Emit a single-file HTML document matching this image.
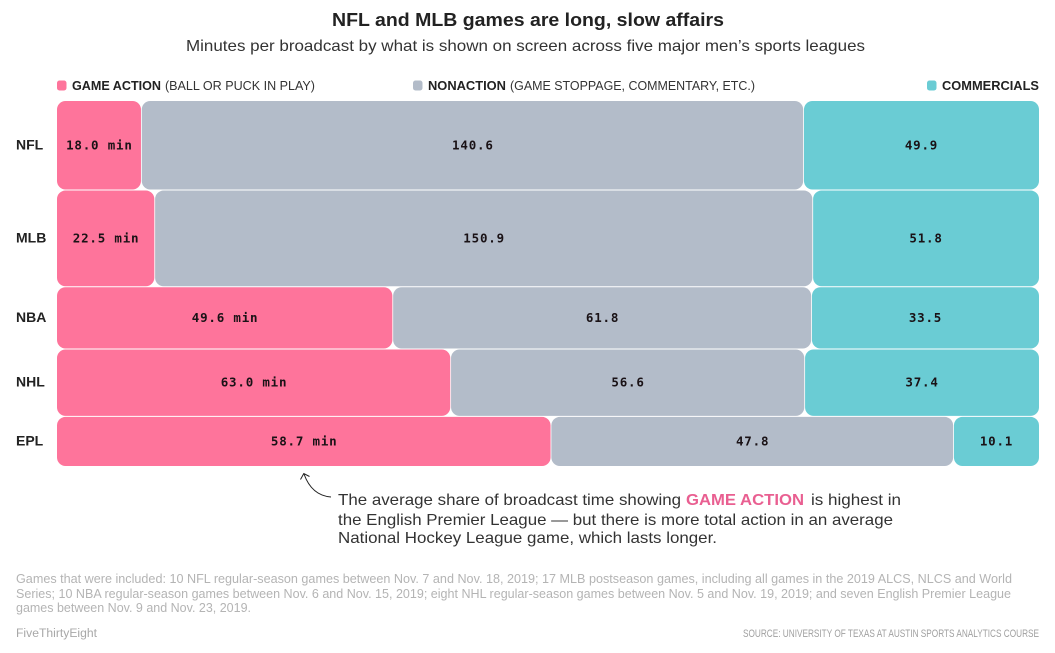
<!DOCTYPE html>
<html lang="en">
<head>
<meta charset="utf-8">
<title>NFL and MLB games are long, slow affairs</title>
<style>
html,body{margin:0;padding:0;background:#fff;width:1055px;height:653px;overflow:hidden}
svg{display:block}
text{font-family:"Liberation Sans",sans-serif;fill:#222}
.val{font-family:"DejaVu Sans Mono","Liberation Mono",monospace;font-weight:700;font-size:12.5px;text-anchor:middle;fill:#1a1216;letter-spacing:.8px}
.row{font-weight:700;font-size:14px;fill:#222}
.leg{font-size:12.5px;fill:#333}
.legb{font-size:12.5px;font-weight:700}
.ann{font-size:16px;fill:#333}
.foot{font-size:12.5px;fill:#b4b4b4}
</style>
</head>
<body>
<svg id="chart" width="1055" height="653" viewBox="0 0 1055 653" xmlns="http://www.w3.org/2000/svg">
  <text x="332" y="26" font-size="18.5" font-weight="700" textLength="392" lengthAdjust="spacingAndGlyphs">NFL and MLB games are long, slow affairs</text>
  <text x="186" y="51" font-size="16" style="fill:#333" textLength="679" lengthAdjust="spacingAndGlyphs">Minutes per broadcast by what is shown on screen across five major men’s sports leagues</text>

  <g>
    <rect x="57" y="80.5" width="9.5" height="10" rx="2.5" fill="#fe749b"/>
    <text class="legb" x="72" y="90" textLength="89" lengthAdjust="spacingAndGlyphs">GAME ACTION</text>
    <text class="leg" x="165" y="90" textLength="150" lengthAdjust="spacingAndGlyphs">(BALL OR PUCK IN PLAY)</text>
    <rect x="413" y="80.5" width="9.5" height="10" rx="2.5" fill="#b3bcc9"/>
    <text class="legb" x="428" y="90" textLength="78" lengthAdjust="spacingAndGlyphs">NONACTION</text>
    <text class="leg" x="510" y="90" textLength="245" lengthAdjust="spacingAndGlyphs">(GAME STOPPAGE, COMMENTARY, ETC.)</text>
    <rect x="927" y="80.5" width="9.5" height="10" rx="2.5" fill="#6accd4"/>
    <text class="legb" x="942" y="90" textLength="97" lengthAdjust="spacingAndGlyphs">COMMERCIALS</text>
  </g>

  <g id="plot"></g>

  <path d="M331 497 C318 496 309 488 304 474" fill="none" stroke="#222" stroke-width="1"/>
  <path d="M300.5 479.5 L303.8 473.5 L309.5 476.5" fill="none" stroke="#222" stroke-width="1"/>

  <g>
    <text class="ann" x="338" y="505" textLength="343" lengthAdjust="spacingAndGlyphs">The average share of broadcast time showing</text>
    <text x="686" y="505" font-size="16" font-weight="700" style="fill:#e95f91" textLength="118" lengthAdjust="spacingAndGlyphs">GAME ACTION</text>
    <text class="ann" x="811" y="505" textLength="90" lengthAdjust="spacingAndGlyphs">is highest in</text>
    <text class="ann" x="338" y="525" textLength="555" lengthAdjust="spacingAndGlyphs">the English Premier League — but there is more total action in an average</text>
    <text class="ann" x="338" y="543" textLength="379" lengthAdjust="spacingAndGlyphs">National Hockey League game, which lasts longer.</text>
  </g>

  <g>
    <text class="foot" x="16" y="583" textLength="996" lengthAdjust="spacingAndGlyphs">Games that were included: 10 NFL regular-season games between Nov. 7 and Nov. 18, 2019; 17 MLB postseason games, including all games in the 2019 ALCS, NLCS and World</text>
    <text class="foot" x="16" y="598" textLength="995" lengthAdjust="spacingAndGlyphs">Series; 10 NBA regular-season games between Nov. 6 and Nov. 15, 2019; eight NHL regular-season games between Nov. 5 and Nov. 19, 2019; and seven English Premier League</text>
    <text class="foot" x="16" y="612" textLength="235" lengthAdjust="spacingAndGlyphs">games between Nov. 9 and Nov. 23, 2019.</text>
  </g>
  <text x="16" y="637" font-size="11.5" style="fill:#a8a8a8" textLength="81" lengthAdjust="spacingAndGlyphs">FiveThirtyEight</text>
  <text x="743" y="637" font-size="11" style="fill:#a0a0a0" textLength="296" lengthAdjust="spacingAndGlyphs">SOURCE: UNIVERSITY OF TEXAS AT AUSTIN SPORTS ANALYTICS COURSE</text>
</svg>
<script>
const leagues = ['NFL', 'MLB', 'NBA', 'NHL', 'EPL'];
const gameAction = [18.0, 22.5, 49.6, 63.0, 58.7];
const nonaction = [140.6, 150.9, 61.8, 56.6, 47.8];
const commercials = [49.9, 51.8, 33.5, 37.4, 10.1];

const NS = 'http://www.w3.org/2000/svg';
const plot = document.getElementById('plot');
const plotLeft = 57, plotWidth = 982, plotTop = 100.5, plotHeight = 366;
const seriesColors = ['#fe749b', '#b3bcc9', '#6accd4'];
const seriesKeys = ['game-action', 'nonaction', 'commercials'];
const totals = leagues.map(function (_, i) { return gameAction[i] + nonaction[i] + commercials[i]; });
const grandTotal = totals.reduce(function (a, b) { return a + b; }, 0);
function yLen(minutes) { return minutes / grandTotal * plotHeight; }
function xLen(minutes, total) { return minutes / total * plotWidth; }

let yCursor = plotTop;
leagues.forEach(function (league, i) {
  const rowH = yLen(totals[i]);
  const series = [gameAction[i], nonaction[i], commercials[i]];
  const label = document.createElementNS(NS, 'text');
  
  
  label.setAttribute('class', 'row');
  label.setAttribute('x', 16);
  label.setAttribute('y', yCursor + rowH / 2 + 4);
  label.textContent = league;
  plot.appendChild(label);

  let xCursor = plotLeft;
  series.forEach(function (v, s) {
    const w = xLen(v, totals[i]);
    const rect = document.createElementNS(NS, 'rect');
    
    
    rect.setAttribute('data-series', seriesKeys[s]);
    rect.setAttribute('x', xCursor);
    rect.setAttribute('y', yCursor + 0.5);
    rect.setAttribute('width', Math.max(0, s === 2 ? w : w - 0.8));
    rect.setAttribute('height', Math.max(0, rowH - 1));
    rect.setAttribute('rx', 8.5);
    rect.setAttribute('fill', seriesColors[s]);
    plot.appendChild(rect);

    const text = document.createElementNS(NS, 'text');
    
    
    text.setAttribute('class', 'val');
    text.setAttribute('x', xCursor + w / 2);
    text.setAttribute('y', yCursor + rowH / 2 + 4);
    text.textContent = v.toFixed(1) + (s === 0 ? ' min' : '');
    plot.appendChild(text);
    xCursor += w;
  });
  yCursor += rowH;
});
</script>
</body>
</html>
